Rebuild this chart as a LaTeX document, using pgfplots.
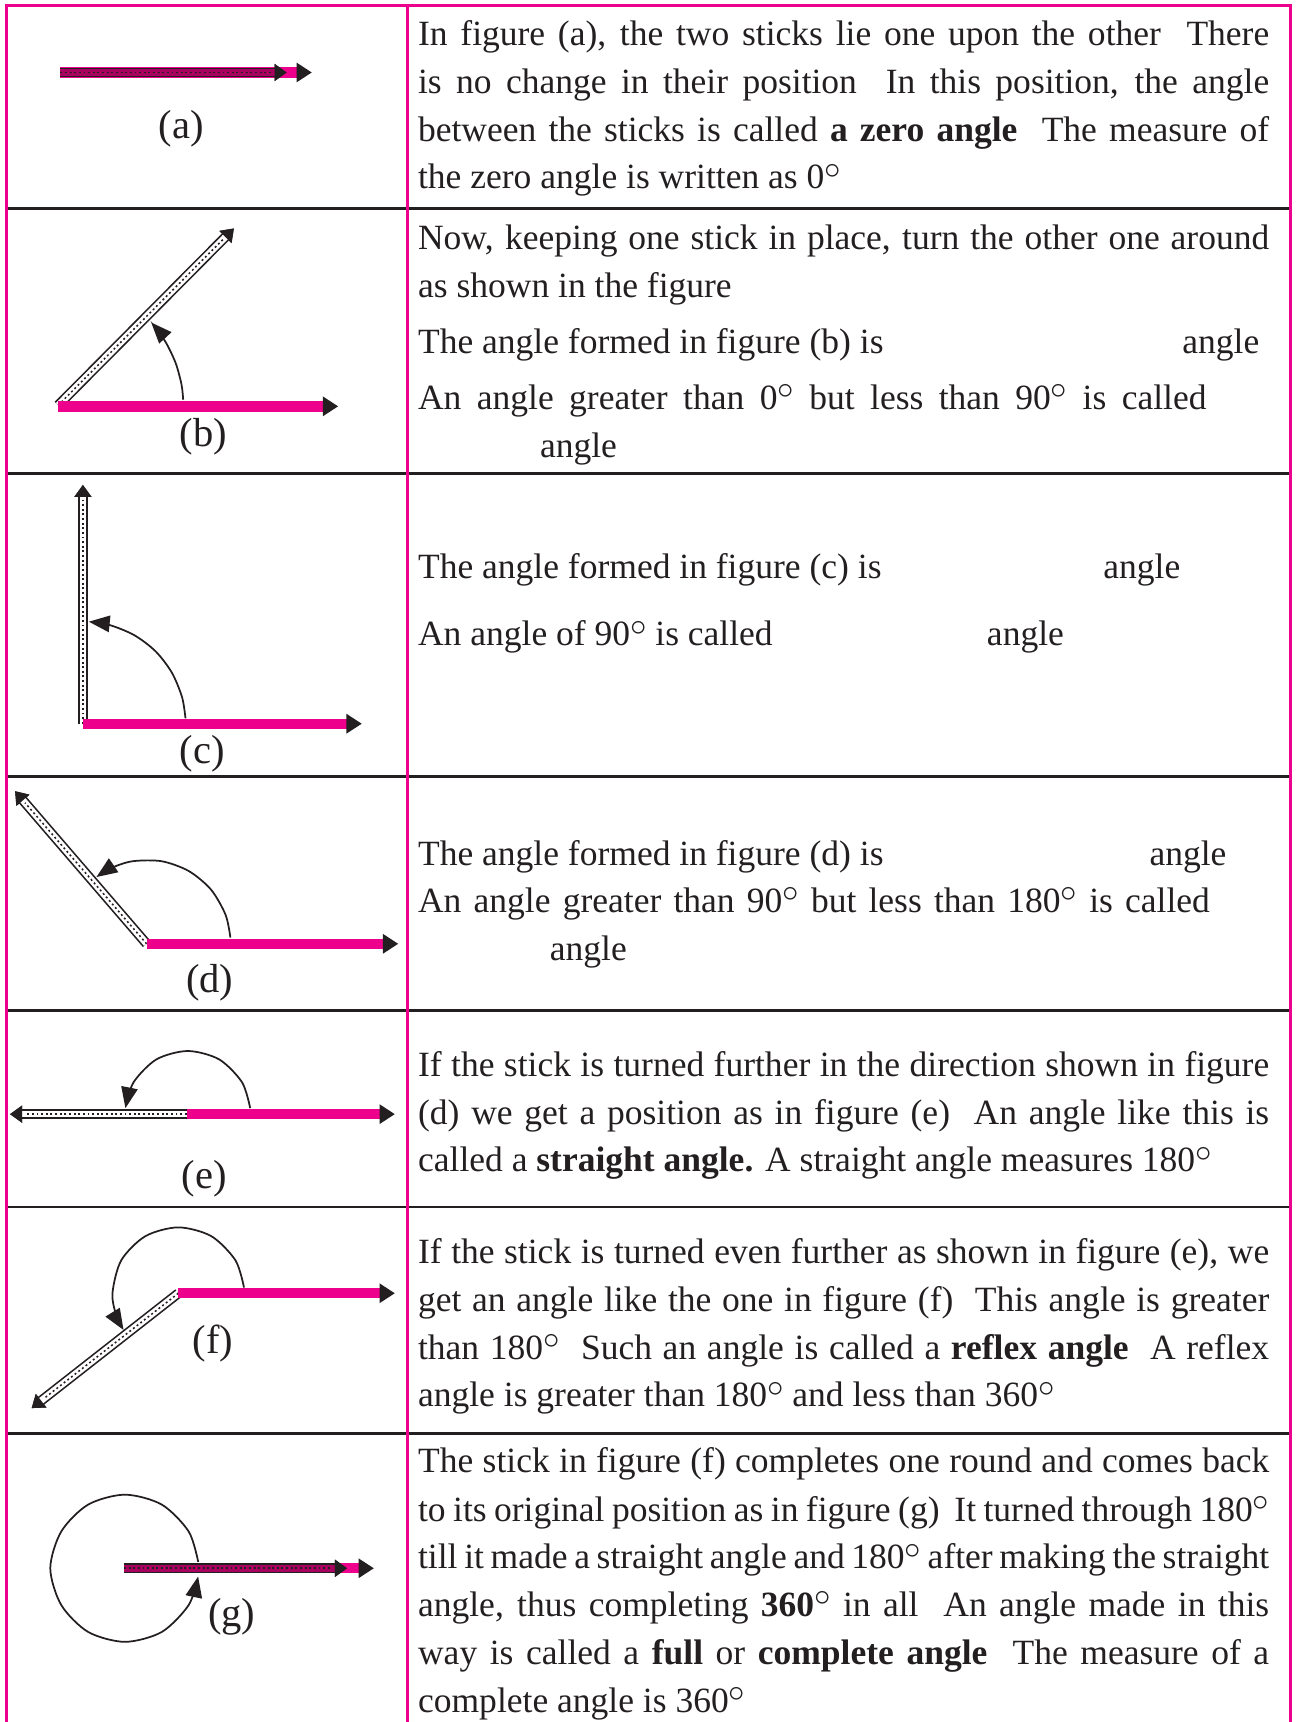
\documentclass[border=0pt]{standalone}
\usepackage{fontspec}
\setmainfont{Liberation Serif}
\usepackage{pgfplots}
\pgfplotsset{compat=1.18}
\usetikzlibrary{arrows.meta}
\definecolor{mag}{HTML}{EC008C}
\definecolor{magdk}{HTML}{A8005F}
\definecolor{ink}{HTML}{231F20}

\newcommand{\dg}{\raisebox{0.3em}{\fontsize{8.4}{8}\selectfont$\circ$}}
% one justified text line of the right column, and a free text line
\newcommand{\full}[3][77.5mm]{\node[anchor=base west] at (axis cs:380,#2) {\makebox[#1][s]{#3}};}
\newcommand{\txt}[3]{\node[anchor=base west] at (axis cs:#1,#2) {#3};}
% hollow stick: fill colour, base x,y, tip x,y
\newcommand{\stick}[5]{%
  \addplot[line width=0.9mm, ink, -{Triangle[length=1.1mm,width=1.5mm,color=ink,fill=ink]}] coordinates {(#2,#3) (#4,#5)};
  \addplot[line width=0.6mm, #1, -{Triangle[length=1.1mm,width=1.5mm,color=ink,fill=ink]}] coordinates {(#2,#3) (#4,#5)};
  \addplot[line width=0.4pt, ink, dash pattern=on 0.5pt off 0.7pt, shorten >=1.4mm] coordinates {(#2,#3) (#4,#5)};}
% pink stick: x0, y, x1
\newcommand{\pbar}[3]{%
  \addplot[line width=0.95mm, mag, -{Triangle[length=1.4mm,width=1.7mm,color=ink,fill=ink]}] coordinates {(#1,#2) (#3,#2)};}
\tikzset{turn/.style={line width=0.45pt, ink, smooth, -{Triangle[length=1.9mm,width=1.5mm,color=ink,fill=ink]}}}

\begin{document}
\begin{tikzpicture}[every node/.style={inner sep=0pt, text=ink, font=\fontsize{9.2}{11}\selectfont}]
\begin{axis}[
  width=118mm, height=156.8mm, scale only axis,
  xmin=0, xmax=1180, ymin=0, ymax=1568, y dir=reverse,
  hide axis, clip=false,
]
% table rules
\addplot[line width=0.7pt, ink] coordinates {(6,190) (1175,190)};
\addplot[line width=0.7pt, ink] coordinates {(6,431) (1175,431)};
\addplot[line width=0.7pt, ink] coordinates {(6,707) (1175,707)};
\addplot[line width=0.7pt, ink] coordinates {(6,920) (1175,920)};
\addplot[line width=0.7pt, ink] coordinates {(6,1099) (1175,1099)};
\addplot[line width=0.7pt, ink] coordinates {(6,1305.5) (1175,1305.5)};
\addplot[line width=0.6pt, mag] coordinates {(6,1568) (6,5) (1175,5) (1175,1568)};
\addplot[line width=0.6pt, mag] coordinates {(371,5) (371,1568)};

% (a) zero angle
\pbar{55}{66}{284}
\stick{magdk}{55}{66}{261}{66}
\node[font=\fontsize{10.5}{12}\selectfont] at (axis cs:165,117) {(a)};

% (b) acute
\stick{white}{53}{369}{213}{208}
\pbar{53}{370}{308}
\addplot[turn] coordinates {(166.8,364.0) (165.3,350.2) (160.1,331.0) (151.7,313.0) (142.8,299.8) (137.7,293.7)};
\node[font=\fontsize{10.5}{12}\selectfont] at (axis cs:185,398) {(b)};

% (c) right
\stick{white}{75.5}{659}{75.5}{441.5}
\pbar{76}{659}{329.5}
\addplot[turn] coordinates {(168.9,654.1) (165.8,634.9) (156.5,612.5) (141.8,593.2) (122.5,578.5) (100.1,569.2) (80.9,566.1)};
\node[font=\fontsize{10.5}{12}\selectfont] at (axis cs:184,686) {(c)};

% (d) obtuse
\stick{white}{133.5}{859.4}{13.7}{720.4}
\pbar{133.5}{859.4}{362.7}
\addplot[turn] coordinates {(209.8,853.7) (205.4,833) (192.2,810.1) (172,793.2) (147.2,784.2) (120.8,784.2) (101.9,790.1) (87.8,798.6)};
\node[font=\fontsize{10.5}{12}\selectfont] at (axis cs:191,895) {(d)};

% (e) straight
\stick{white}{170}{1014.5}{9.1}{1014.5}
\pbar{170}{1014.5}{359.6}
\addplot[turn] coordinates {(227.8,1009) (220.4,985.5) (199.5,964.6) (171,957) (142.5,964.6) (121.6,985.5) (114.2,1009)};
\node[font=\fontsize{10.5}{12}\selectfont] at (axis cs:186,1073) {(e)};

% (f) reflex
\stick{white}{162.4}{1177.6}{28.8}{1282.2}
\pbar{162.4}{1177.6}{359.6}
\addplot[turn] coordinates {(222.2,1172.4) (214.4,1147.6) (192.4,1125.6) (162.4,1117.6) (132.4,1125.6) (110.4,1147.6) (102.4,1177.6) (106,1198.1) (112.5,1211)};
\node[font=\fontsize{10.5}{12}\selectfont] at (axis cs:194,1223) {(f)};

% (g) complete
\addplot[turn] coordinates {(180.5,1422.2) (171.8,1394.5) (147.3,1370) (113.8,1361) (80.3,1370) (55.8,1394.5) (45.8,1428) (55.8,1461.5) (80.3,1486) (113.8,1495) (147.3,1486) (171.8,1461.5) (180.4,1435.5)};
\pbar{112.9}{1428}{340.5}
\stick{magdk}{112.9}{1428}{316}{1428}
\node[font=\fontsize{10.5}{12}\selectfont] at (axis cs:211,1472) {(g)};

% right column text
\full{41}{In figure (a), the two sticks lie one upon the other\ \ There}
\full{85}{is no change in their position\ \ In this position, the angle}
\full{128.5}{between the sticks is called \textbf{a zero angle}\ \ The measure of}
\txt{380}{172}{the zero angle is written as 0\dg}

\full{227}{Now, keeping one stick in place, turn the other one around}
\txt{380}{271}{as shown in the figure}
\txt{380}{322}{The angle formed in figure (b) is}
\txt{1076}{322}{angle}
\full[71.8mm]{373}{An angle greater than 0\dg{} but less than 90\dg{} is called}
\txt{491}{417}{angle}

\txt{380}{527}{The angle formed in figure (c) is}
\txt{1004}{527}{angle}
\txt{380}{588}{An angle of 90\dg{} is called}
\txt{898}{588}{angle}

\txt{380}{788}{The angle formed in figure (d) is}
\txt{1046}{788}{angle}
\full[72.1mm]{831}{An angle greater than 90\dg{} but less than 180\dg{} is called}
\txt{500}{875}{angle}

\full{980}{If the stick is turned further in the direction shown in figure}
\full{1024}{(d) we get a position as in figure (e)\ \ An angle like this is}
\txt{380}{1067}{called a \textbf{straight angle.} A straight angle measures 180\dg}

\full{1150.5}{If the stick is turned even further as shown in figure (e), we}
\full{1194}{get an angle like the one in figure (f)\ \ This angle is greater}
\full{1237.5}{than 180\dg\ \ Such an angle is called a \textbf{reflex angle}\ \ A reflex}
\txt{380}{1281}{angle is greater than 180\dg{} and less than 360\dg}

\full{1341}{The stick in figure (f) completes one round and comes back}
\full{1385}{to its original position as in figure (g)\ \ It turned through 180\dg}
\full{1428.5}{till it made a straight angle and 180\dg{} after making the straight}
\full{1472}{angle, thus completing \textbf{360\dg} in all\ \ An angle made in this}
\full{1516}{way is called a \textbf{full} or \textbf{complete angle}\ \ The measure of a}
\txt{380}{1559}{complete angle is 360\dg}
\end{axis}
\pgfresetboundingbox
\useasboundingbox (current axis.south west) rectangle (current axis.north east);
\end{tikzpicture}
\end{document}
